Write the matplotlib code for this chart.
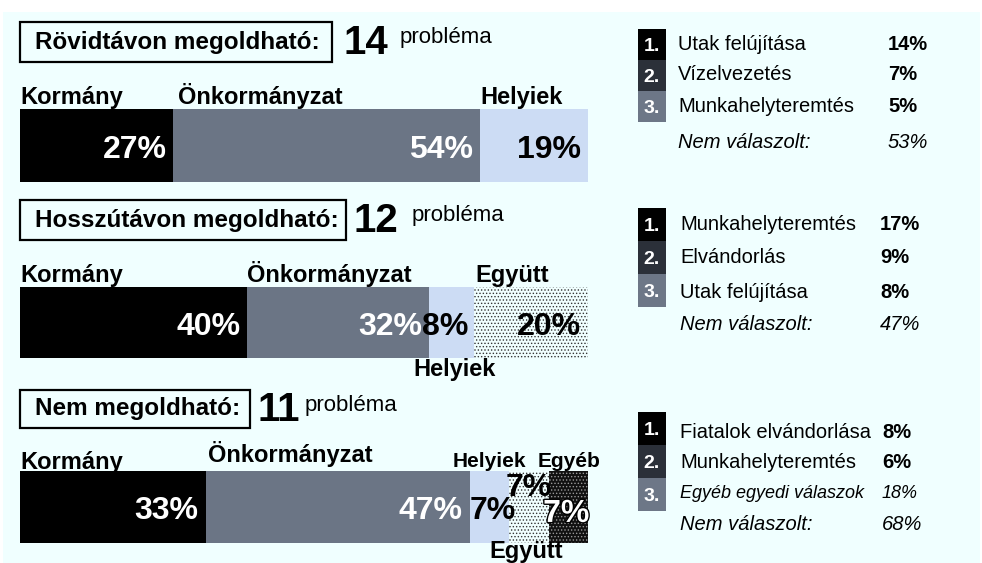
import matplotlib.pyplot as plt
from matplotlib.patches import Rectangle
import matplotlib.patheffects as pe

plt.rcParams['font.family'] = ['Liberation Sans', 'DejaVu Sans']
plt.rcParams['hatch.linewidth'] = 0.6

W, H = 982, 563
BG = '#F0FFFF'

# --- data ---
titles = ['Rövidtávon megoldható:', 'Hosszútávon megoldható:', 'Nem megoldható:']
counts = ['14', '12', '11']

seg_names1 = ['Kormány', 'Önkormányzat', 'Helyiek']
seg_vals1 = [27, 54, 19]
seg_names2 = ['Kormány', 'Önkormányzat', 'Helyiek', 'Együtt']
seg_vals2 = [40, 32, 8, 20]
seg_names3 = ['Kormány', 'Önkormányzat', 'Helyiek', 'Együtt', 'Egyéb']
seg_vals3 = [33, 47, 7, 7, 7]

top1_items = ['Utak felújítása', 'Vízelvezetés', 'Munkahelyteremtés']
top1_pct = [14, 7, 5]
top1_nr = 53
top2_items = ['Munkahelyteremtés', 'Elvándorlás', 'Utak felújítása']
top2_pct = [17, 9, 8]
top2_nr = 47
top3_items = ['Fiatalok elvándorlása', 'Munkahelyteremtés', 'Egyéb egyedi válaszok']
top3_pct = [8, 6, 18]
top3_nr = 68

seg_style = {
    'Kormány': dict(color='black', tc='white'),
    'Önkormányzat': dict(color='#6B7585', tc='white'),
    'Helyiek': dict(color='#CCDCF4', tc='black'),
    'Együtt': dict(color=BG, tc='black', hatch='.....', ec='#333333'),
    'Egyéb': dict(color='#111111', tc='white', hatch='.....', ec='#999999'),
}
num_colors = ['black', '#2B3039', '#6D7787']

fig = plt.figure(figsize=(W / 100, H / 100), dpi=100)
fig.patch.set_facecolor('white')
fig.patches.append(Rectangle((3 / W, 0), 977 / W, 1 - 12 / H, transform=fig.transFigure,
                             facecolor=BG, edgecolor='none', zorder=-5))


def fx(x):
    return x / W


def fy(y):
    return 1 - y / H


LAB = 17
PCT = 23


def draw_bar(top, bottom, names, vals, label_pos):
    ax = fig.add_axes([fx(20), fy(bottom), fx(568), (bottom - top) / H])
    ax.set_zorder(2)
    ax.set_xlim(0, sum(vals))
    ax.set_ylim(-0.5, 0.5)
    ax.axis('off')
    left = 0
    for name, v in zip(names, vals):
        st = seg_style[name]
        ax.barh(0, v, left=left, height=1, color=st['color'], hatch=st.get('hatch'),
                edgecolor=st.get('ec', 'none'), linewidth=0)
        pos = label_pos.get(name, ('above', 'left', 0))
        # segment name
        if pos[0] == 'above':
            if pos[1] == 'left':
                xy, ha = (left, 1), 'left'
            elif pos[1] == 'right':
                xy, ha = (left + v, 1), 'right'
            else:
                xy, ha = (left + v / 2, 1), 'center'
            va = 'bottom'
        else:
            xy, ha, va = (left + v / 2, 0), 'center', 'top'
        dyl = pos[4] if len(pos) > 4 else 0
        fs = pos[5] if len(pos) > 5 else LAB
        ax.annotate(name, xy=xy, xycoords=('data', 'axes fraction'),
                    xytext=(pos[2], dyl), textcoords='offset points', ha=ha, va=va,
                    fontsize=fs, fontweight='bold', annotation_clip=False)
        # percentage
        dx, dy = pos[3] if len(pos) > 3 else (-5, -3)
        t = ax.annotate(f'{v}%', xy=(left + v, 0), xytext=(dx, dy), textcoords='offset points',
                        ha='right', va='center', fontsize=PCT, fontweight='bold', color=st['tc'],
                        annotation_clip=False)
        if name == 'Egyéb':
            t.set_path_effects([pe.withStroke(linewidth=2, foreground='black')])
        left += v
    return ax


draw_bar(109, 182, seg_names1, seg_vals1, {'Önkormányzat': ('above', 'left', 3)})
draw_bar(287, 358, seg_names2, seg_vals2,
         {'Helyiek': ('below', 'center', 2, (-4, -3)), 'Együtt': ('above', 'left', 1)})
draw_bar(471, 543, seg_names3, seg_vals3,
         {'Kormány': ('above', 'left', 0, (-5, -3), -2),
          'Önkormányzat': ('above', 'left', 2, (-5, -3), 3),
          'Helyiek': ('above', 'center', 0, (5, -3), 0, 15),
          'Együtt': ('below', 'center', -2, (2, 14), 2),
          'Egyéb': ('above', 'right', 9, (1, -5), 0, 15)})

# section titles
title_y = [42, 220, 409]
box_w = [312, 326, 230]
box_h = [40, 40, 38]
count_x = [344, 354, 258]
prob_x = [400, 412, 305]
for t, c, y, bw, bh, cx, px_ in zip(titles, counts, title_y, box_w, box_h, count_x, prob_x):
    fig.patches.append(Rectangle((fx(20), fy(y + bh / 2)), fx(bw), bh / H,
                                 transform=fig.transFigure, facecolor=BG,
                                 edgecolor='black', linewidth=1.6))
    fig.text(fx(35), fy(y), t, fontsize=17.5, fontweight='bold', ha='left', va='center')
    fig.text(fx(cx), fy(y + 1), c, fontsize=29, fontweight='bold', ha='left', va='center')
    fig.text(fx(px_), fy(y - 4), 'probléma', fontsize=16, ha='left', va='center')

# right-hand top-3 lists
panels = [
    (top1_items, top1_pct, top1_nr, [44, 75, 107, 142], 29, 31, 678, 888),
    (top2_items, top2_pct, top2_nr, [225, 258, 292, 324], 208, 33, 680, 880),
    (top3_items, top3_pct, top3_nr, [432, 463, 493, 524], 412, 33, 680, 882),
]
for pi, (items, pcts, nr, ys, btop, bh, tx, px) in enumerate(panels):
    for i in range(3):
        fig.patches.append(Rectangle((fx(638), fy(btop + (i + 1) * bh)), fx(28), bh / H,
                                     transform=fig.transFigure, facecolor=num_colors[i],
                                     edgecolor='none'))
        fig.text(fx(652), fy(btop + i * bh + bh / 2 + 2), f'{i + 1}.', color='white', fontsize=14,
                 fontweight='bold', ha='center', va='center')
        italic = pi == 2 and i == 2
        fig.text(fx(tx), fy(ys[i]), items[i], fontsize=13 if italic else 14.5,
                 style='italic' if italic else 'normal', ha='left', va='center')
        fig.text(fx(px), fy(ys[i]), f'{pcts[i]}%', fontsize=13 if italic else 14.5,
                 fontweight='normal' if italic else 'bold',
                 style='italic' if italic else 'normal', ha='left', va='center')
    fig.text(fx(tx), fy(ys[3]), 'Nem válaszolt:', fontsize=14.5, style='italic',
             ha='left', va='center')
    fig.text(fx(px), fy(ys[3]), f'{nr}%', fontsize=14.5, style='italic', ha='left', va='center')

fig.savefig('out.png', dpi=100, facecolor=fig.get_facecolor())
